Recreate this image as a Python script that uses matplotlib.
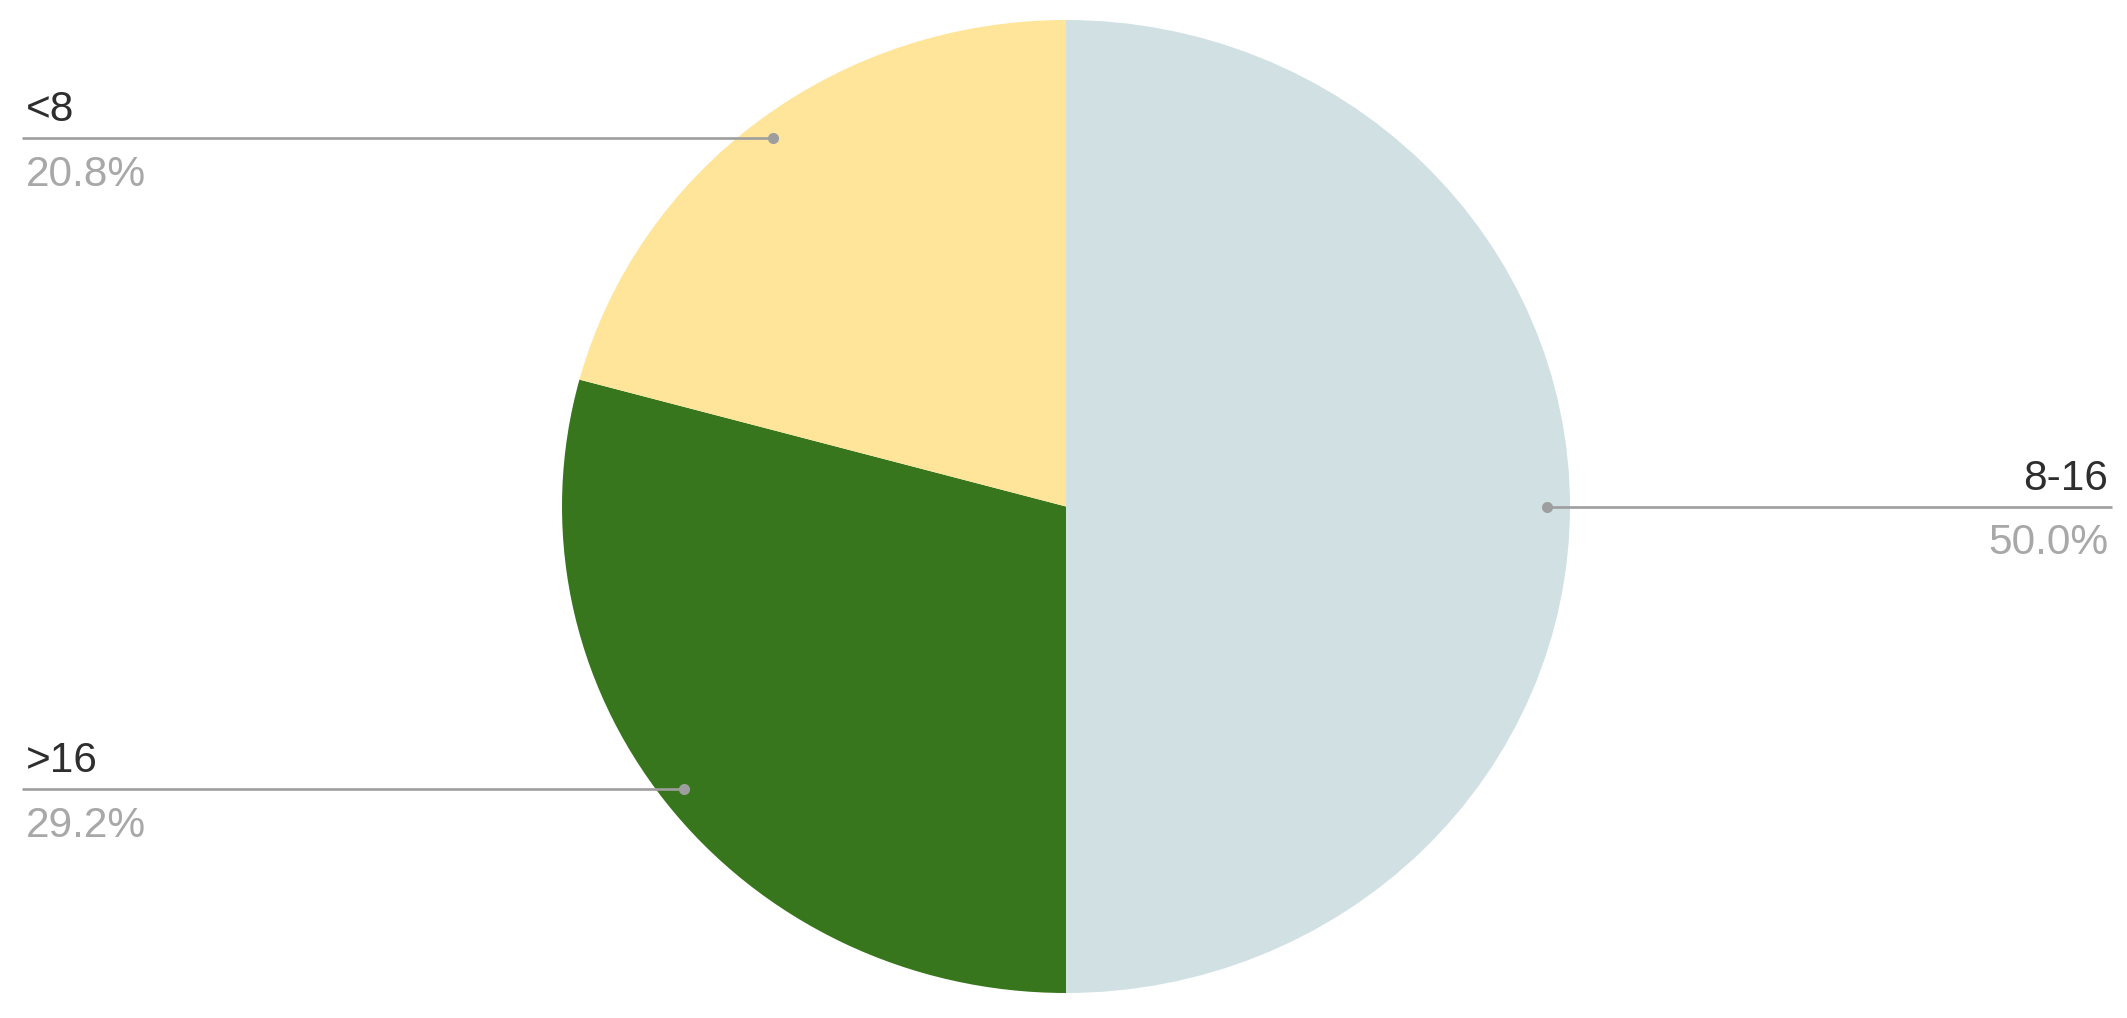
import numpy as np
import matplotlib
matplotlib.use("Agg")
import matplotlib.pyplot as plt

# ---- data ----
categories = ["8-16", ">16", "<8"]
percents = [50.0, 29.2, 20.8]
colors = ["#d0e0e3", "#38761d", "#ffe599"]

W, H = 2127, 1018
DPI = 100
plt.rcParams['font.family'] = ['Liberation Sans', 'DejaVu Sans']

fig = plt.figure(figsize=(W / DPI, H / DPI), dpi=DPI)
fig.patch.set_facecolor("white")

# pie axes (slightly elliptical like the reference)
cx, cy, rx, ry = 1066, 506.5, 504, 486.5
ax = fig.add_axes([(cx - rx) / W, (H - cy - ry) / H, 2 * rx / W, 2 * ry / H])
wedges, _ = ax.pie(percents, colors=colors, startangle=90, counterclock=False,
                   radius=1, wedgeprops=dict(linewidth=0))
ax.set_aspect('auto')
ax.set_xlim(-1, 1)
ax.set_ylim(-1, 1)
ax.axis('off')

# overlay in pixel coordinates
ov = fig.add_axes([0, 0, 1, 1])
ov.set_xlim(0, W)
ov.set_ylim(H, 0)
ov.axis('off')
ov.patch.set_alpha(0)

line_col = "#9e9e9e"
line_left, line_right = 22, 2112
for w, cat, p in zip(wedges, categories, percents):
    mid = np.deg2rad((w.theta1 + w.theta2) / 2)
    px, py = ax.transData.transform((0.955 * np.cos(mid), 0.955 * np.sin(mid)))
    py = H - py
    if np.cos(mid) > 0:
        ex, tx, ha = line_right, line_right - 4, 'right'
    else:
        ex, tx, ha = line_left, line_left + 4, 'left'
    ov.plot([px, ex], [py, py], color=line_col, lw=1.9, solid_capstyle='butt', zorder=3)
    ov.plot([px], [py], 'o', color=line_col, ms=8, mec='none', zorder=4)
    ov.text(tx, py - 17, cat, ha=ha, va='baseline', fontsize=30.5, color="#2e2e2e")
    ov.text(tx, py + 17, f"{p:.1f}%", ha=ha, va='top', fontsize=30.5, color="#a8a8a8")

fig.savefig("out.png", dpi=DPI)
